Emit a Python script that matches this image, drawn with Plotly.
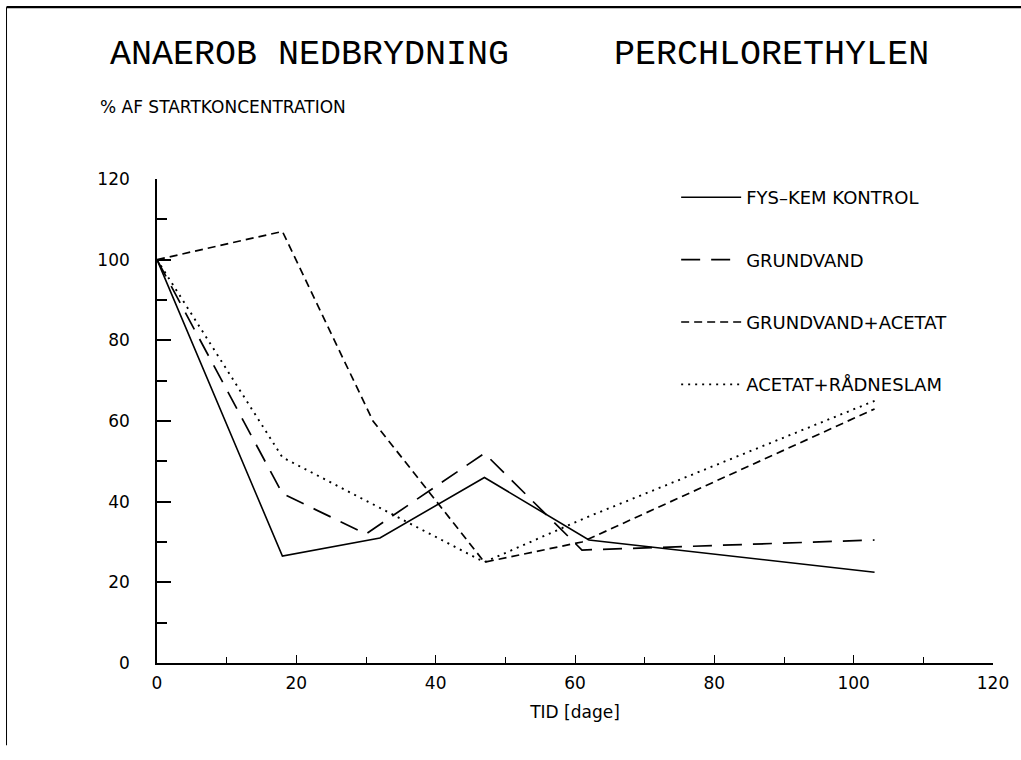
import plotly.graph_objects as go

# ---- data ----
series_names = ["FYS\u2013KEM KONTROL", "GRUNDVAND", "GRUNDVAND+ACETAT", "ACETAT+R\u00c5DNESLAM"]

x_kontrol = [0, 18, 32, 47, 62, 103]
y_kontrol = [100, 26.5, 31, 46, 30.5, 22.5]

x_grundvand = [0, 18, 30, 47, 61, 103]
y_grundvand = [100, 42, 32, 52, 28, 30.5]

x_acetat = [0, 18, 31, 47, 61, 103]
y_acetat = [100, 107, 60, 25, 30, 63]

x_raadneslam = [0, 18, 47, 61.5, 103]
y_raadneslam = [100, 51, 25, 36, 65]

x_ticks = [0, 20, 40, 60, 80, 100, 120]
y_ticks = [0, 20, 40, 60, 80, 100, 120]

title_text = "ANAEROB NEDBRYDNING     PERCHLORETHYLEN"
y_title = "% AF STARTKONCENTRATION"
x_title = "TID [dage]"

# ---- figure ----
fig = go.Figure()
styles = [
    dict(dash="solid", width=1.6),
    dict(dash="19px,11px", width=1.7),
    dict(dash="8px,5px", width=1.7),
    dict(dash="2px,5px", width=1.9),
]
xs = [x_kontrol, x_grundvand, x_acetat, x_raadneslam]
ys = [y_kontrol, y_grundvand, y_acetat, y_raadneslam]
for i, (name, x, y, st) in enumerate(zip(series_names, xs, ys, styles)):
    fig.add_trace(go.Scatter(
        x=x, y=y, mode="lines", name=name, legendgroup=f"g{i}",
        line=dict(color="black", dash=st["dash"], width=st["width"]),
    ))

font_main = "DejaVu Sans, Verdana, sans-serif"

fig.update_layout(
    width=1021, height=760,
    margin=dict(l=157, r=28, t=179, b=97),
    paper_bgcolor="white", plot_bgcolor="white",
    showlegend=True,
    legend=dict(
        x=0.621, y=1.0, xanchor="left", yanchor="top",
        bgcolor="rgba(0,0,0,0)", borderwidth=0,
        font=dict(family=font_main, size=18, color="black"),
        tracegroupgap=36, traceorder="grouped",
        itemwidth=60,
    ),
    font=dict(family=font_main, color="black"),
)

fig.update_xaxes(
    range=[0, 120], tickvals=x_ticks, ticktext=[str(v) for v in x_ticks],
    showgrid=False, zeroline=False, showline=True, linecolor="black", linewidth=1.6,
    ticks="inside", ticklen=8, tickwidth=1.2, tickcolor="black",
    minor=dict(ticks="inside", ticklen=6, tickwidth=1.2, tickcolor="black", dtick=10),
    tickfont=dict(family=font_main, size=17, color="black"),
    ticklabelstandoff=4,
    title=dict(text=x_title, font=dict(family=font_main, size=17, color="black"), standoff=14),
)
fig.update_yaxes(
    range=[0, 120], tickvals=y_ticks, ticktext=[str(v) for v in y_ticks],
    showgrid=False, zeroline=False, showline=True, linecolor="black", linewidth=1.6,
    ticks="inside", ticklen=14, tickwidth=1.6, tickcolor="black",
    minor=dict(ticks="inside", ticklen=10, tickwidth=1.6, tickcolor="black", dtick=10),
    tickfont=dict(family=font_main, size=17, color="black"),
    ticklabelstandoff=22,
)

# Title and y-axis caption
fig.add_annotation(
    text=title_text, xref="paper", yref="paper", x=-0.059, y=1.256,
    xanchor="left", yanchor="middle", showarrow=False,
    font=dict(family="Liberation Mono, DejaVu Sans Mono, monospace", size=35, color="black"),
)
fig.add_annotation(
    text=y_title, xref="paper", yref="paper", x=-0.070, y=1.149,
    xanchor="left", yanchor="middle", showarrow=False,
    font=dict(family=font_main, size=17, color="black"),
)

# scanned page frame (top and left edges)
fig.add_shape(type="line", xref="paper", yref="paper",
              x0=-0.180, x1=1.04, y0=1.355, y1=1.355,
              line=dict(color="black", width=2.2))
fig.add_shape(type="line", xref="paper", yref="paper",
              x0=-0.180, x1=-0.180, y0=1.355, y1=-0.17,
              line=dict(color="black", width=1))

fig.write_html("out.html")
